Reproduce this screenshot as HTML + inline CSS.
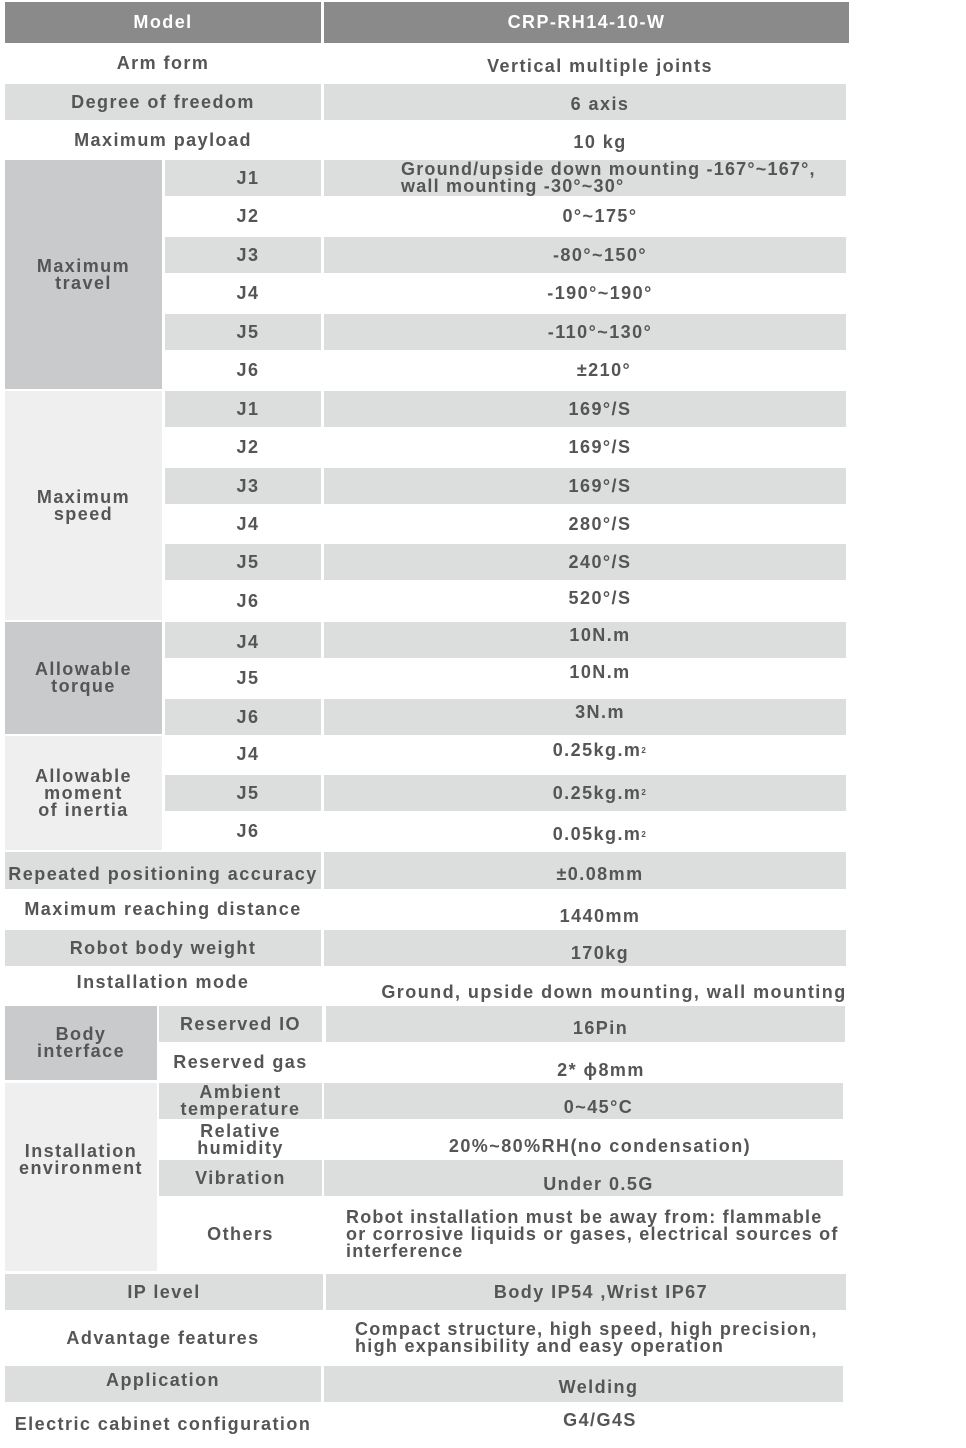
<!DOCTYPE html>
<html><head><meta charset="utf-8"><style>
body{margin:0;width:966px;height:1448px;background:#fff;position:relative;overflow:hidden;font-family:"Liberation Sans",sans-serif;color:#555;}
.c{position:absolute;display:flex;align-items:center;justify-content:center;text-align:center;font-size:18px;letter-spacing:1.45px;line-height:17px;font-weight:bold;}
.g{background:#dcdddd}.d{background:#c9cacb}.l{background:#efefef}.h{background:#8a8a8a;color:#fff}
sup{font-size:8px;line-height:0}
.j{padding-left:10px;box-sizing:border-box}
</style></head><body>
<div class="c h" style="left:5px;top:2px;width:316px;height:41px">Model</div>
<div class="c h" style="left:324px;top:2px;width:525px;height:41px">CRP-RH14-10-W</div>

<div class="c" style="left:5px;top:45px;width:316px;height:37px">Arm form</div>
<div class="c" style="left:324px;top:48px;width:552px;height:37px">Vertical multiple joints</div>
<div class="c g" style="left:5px;top:84px;width:316px;height:36px">Degree of freedom</div>
<div class="c g" style="left:324px;top:84px;width:522px;height:36px;padding-top:4px;padding-left:30px;box-sizing:border-box">6 axis</div>
<div class="c" style="left:5px;top:122px;width:316px;height:36px">Maximum payload</div>
<div class="c" style="left:324px;top:124px;width:552px;height:36px">10 kg</div>

<div class="c d" style="left:5px;top:160px;width:157px;height:229px">Maximum<br>travel</div>
<div class="c g j" style="left:165px;top:160px;width:156px;height:36px">J1</div>
<div class="c g" style="left:324px;top:160px;width:522px;height:36px;justify-content:flex-start;text-align:left;padding-left:77px;box-sizing:border-box;letter-spacing:1.2px">Ground/upside down mounting -167°~167°,<br>wall mounting -30°~30°</div>
<div class="c j" style="left:165px;top:198px;width:156px;height:37px">J2</div>
<div class="c" style="left:324px;top:198px;width:552px;height:37px">0°~175°</div>
<div class="c g j" style="left:165px;top:237px;width:156px;height:36px">J3</div>
<div class="c g" style="left:324px;top:237px;width:522px;height:36px;padding-left:30px;box-sizing:border-box">-80°~150°</div>
<div class="c j" style="left:165px;top:275px;width:156px;height:37px">J4</div>
<div class="c" style="left:324px;top:275px;width:552px;height:37px">-190°~190°</div>
<div class="c g j" style="left:165px;top:314px;width:156px;height:36px">J5</div>
<div class="c g" style="left:324px;top:314px;width:522px;height:36px;padding-left:30px;box-sizing:border-box">-110°~130°</div>
<div class="c j" style="left:165px;top:352px;width:156px;height:37px">J6</div>
<div class="c" style="left:324px;top:352px;width:560px;height:37px">±210°</div>

<div class="c l" style="left:5px;top:391px;width:157px;height:229px">Maximum<br>speed</div>
<div class="c g j" style="left:165px;top:391px;width:156px;height:36px">J1</div>
<div class="c g" style="left:324px;top:391px;width:522px;height:36px;padding-left:30px;box-sizing:border-box">169°/S</div>
<div class="c j" style="left:165px;top:429px;width:156px;height:37px">J2</div>
<div class="c" style="left:324px;top:429px;width:552px;height:37px">169°/S</div>
<div class="c g j" style="left:165px;top:468px;width:156px;height:36px">J3</div>
<div class="c g" style="left:324px;top:468px;width:522px;height:36px;padding-left:30px;box-sizing:border-box">169°/S</div>
<div class="c j" style="left:165px;top:506px;width:156px;height:36px">J4</div>
<div class="c" style="left:324px;top:506px;width:552px;height:36px">280°/S</div>
<div class="c g j" style="left:165px;top:544px;width:156px;height:36px">J5</div>
<div class="c g" style="left:324px;top:544px;width:522px;height:36px;padding-left:30px;box-sizing:border-box">240°/S</div>
<div class="c j" style="left:165px;top:582px;width:156px;height:38px">J6</div>
<div class="c" style="left:324px;top:580px;width:552px;height:36px">520°/S</div>

<div class="c d" style="left:5px;top:622px;width:157px;height:112px">Allowable<br>torque</div>
<div class="c g j" style="left:165px;top:622px;width:156px;height:36px;padding-top:4px">J4</div>
<div class="c g" style="left:324px;top:622px;width:522px;height:36px;padding-left:30px;padding-bottom:10px;box-sizing:border-box">10N.m</div>
<div class="c j" style="left:165px;top:660px;width:156px;height:37px">J5</div>
<div class="c" style="left:324px;top:655px;width:552px;height:34px">10N.m</div>
<div class="c g j" style="left:165px;top:699px;width:156px;height:36px">J6</div>
<div class="c g" style="left:324px;top:699px;width:522px;height:36px;padding-left:30px;padding-bottom:10px;box-sizing:border-box">3N.m</div>

<div class="c l" style="left:5px;top:736px;width:157px;height:114px">Allowable<br>moment<br>of inertia</div>
<div class="c j" style="left:165px;top:736px;width:156px;height:37px">J4</div>
<div class="c" style="left:324px;top:732px;width:552px;height:37px">0.25kg.m<sup>2</sup></div>
<div class="c g j" style="left:165px;top:775px;width:156px;height:36px">J5</div>
<div class="c g" style="left:324px;top:775px;width:522px;height:36px;padding-left:30px;box-sizing:border-box">0.25kg.m<sup>2</sup></div>
<div class="c j" style="left:165px;top:813px;width:156px;height:37px">J6</div>
<div class="c" style="left:324px;top:816px;width:552px;height:37px">0.05kg.m<sup>2</sup></div>

<div class="c g" style="left:5px;top:852px;width:316px;height:37px;padding-top:8px;box-sizing:border-box;letter-spacing:1.5px">Repeated positioning accuracy</div>
<div class="c g" style="left:324px;top:852px;width:522px;height:37px;padding-left:30px;padding-top:8px;box-sizing:border-box">±0.08mm</div>
<div class="c" style="left:5px;top:891px;width:316px;height:37px">Maximum reaching distance</div>
<div class="c" style="left:324px;top:898px;width:552px;height:37px">1440mm</div>
<div class="c g" style="left:5px;top:930px;width:316px;height:36px">Robot body weight</div>
<div class="c g" style="left:324px;top:930px;width:522px;height:36px;padding-left:30px;padding-top:10px;box-sizing:border-box">170kg</div>
<div class="c" style="left:5px;top:964px;width:316px;height:36px">Installation mode</div>
<div class="c" style="left:324px;top:974px;width:580px;height:36px">Ground, upside down mounting, wall mounting</div>

<div class="c d" style="left:5px;top:1006px;width:152px;height:74px">Body<br>interface</div>
<div class="c g" style="left:159px;top:1006px;width:163px;height:36px">Reserved IO</div>
<div class="c g" style="left:326px;top:1006px;width:519px;height:36px;padding-left:30px;padding-top:8px;box-sizing:border-box">16Pin</div>
<div class="c" style="left:159px;top:1044px;width:163px;height:36px">Reserved gas</div>
<div class="c" style="left:326px;top:1052px;width:550px;height:36px">2* ϕ8mm</div>

<div class="c l" style="left:5px;top:1083px;width:152px;height:154px">Installation<br>environment</div>
<div class="l" style="position:absolute;left:5px;top:1230px;width:152px;height:41px"></div>
<div class="c g" style="left:159px;top:1083px;width:163px;height:36px">Ambient<br>temperature</div>
<div class="c g" style="left:324px;top:1083px;width:519px;height:36px;padding-left:30px;padding-top:12px;box-sizing:border-box">0~45°C</div>
<div class="c" style="left:159px;top:1121px;width:163px;height:37px">Relative<br>humidity</div>
<div class="c" style="left:324px;top:1128px;width:552px;height:37px">20%~80%RH(no condensation)</div>
<div class="c g" style="left:159px;top:1160px;width:163px;height:36px">Vibration</div>
<div class="c g" style="left:324px;top:1160px;width:519px;height:36px;padding-left:30px;padding-top:12px;box-sizing:border-box">Under 0.5G</div>
<div class="c" style="left:159px;top:1198px;width:163px;height:73px">Others</div>
<div class="c" style="left:346px;top:1198px;width:520px;height:73px;justify-content:flex-start;text-align:left;letter-spacing:1.2px">Robot installation must be away from: flammable<br>or corrosive liquids or gases, electrical sources of<br>interference</div>

<div class="c g" style="left:5px;top:1274px;width:318px;height:36px">IP level</div>
<div class="c g" style="left:326px;top:1274px;width:520px;height:36px;padding-left:30px;box-sizing:border-box">Body IP54 ,Wrist IP67</div>
<div class="c" style="left:5px;top:1318px;width:316px;height:40px">Advantage features</div>
<div class="c" style="left:355px;top:1312px;width:520px;height:52px;justify-content:flex-start;text-align:left;letter-spacing:1.3px">Compact structure, high speed, high precision,<br>high expansibility and easy operation</div>
<div class="c g" style="left:5px;top:1366px;width:316px;height:36px;padding-bottom:8px;box-sizing:border-box">Application</div>
<div class="c g" style="left:324px;top:1366px;width:519px;height:36px;padding-left:30px;padding-top:6px;box-sizing:border-box">Welding</div>
<div class="c" style="left:5px;top:1406px;width:316px;height:36px">Electric cabinet configuration</div>
<div class="c" style="left:324px;top:1402px;width:552px;height:36px">G4/G4S</div>
</body></html>
